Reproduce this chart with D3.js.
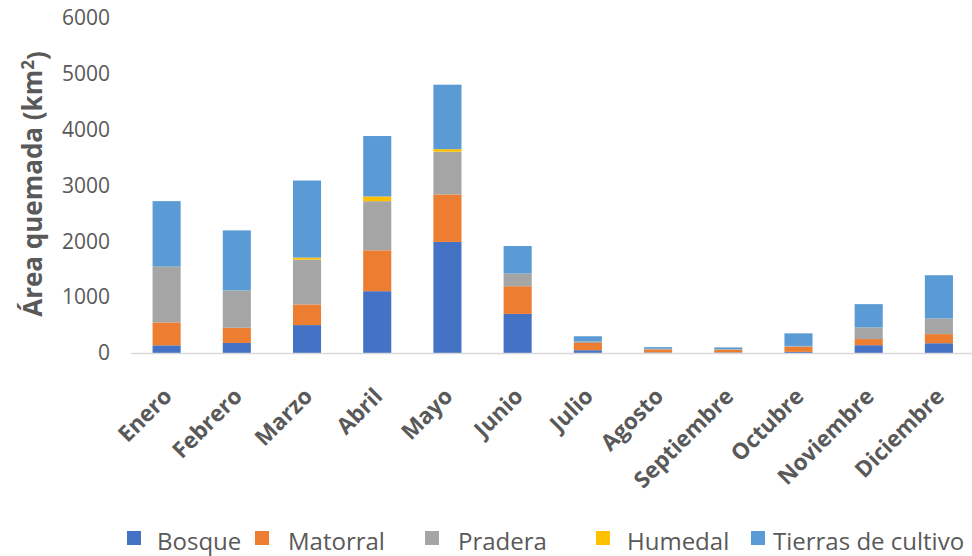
<!DOCTYPE html>
<html>
<head>
<meta charset="utf-8">
<script src="https://cdn.jsdelivr.net/npm/d3@7"></script>
<style>
  html, body { margin: 0; padding: 0; background: #fff; }
  svg { display: block; font-family: "Open Sans", sans-serif; }
</style>
</head>
<body>
<svg id="chart" width="972" height="556"></svg>
<script>
// Monthly burned area by land-cover type (km²)
const months = ["Enero", "Febrero", "Marzo", "Abril", "Mayo", "Junio",
                "Julio", "Agosto", "Septiembre", "Octubre", "Noviembre", "Diciembre"];
const seriesNames = ["Bosque", "Matorral", "Pradera", "Humedal", "Tierras de cultivo"];
const bosque   = [137, 180, 500, 1107, 1990, 700, 50, 10, 10, 20, 140, 175];
const matorral = [411, 272, 370, 732, 850, 496, 130, 55, 50, 92, 110, 164];
const pradera  = [993, 661, 803, 880, 765, 227, 30, 10, 10, 15, 209, 281];
const humedal  = [5, 5, 36, 84, 46, 0, 0, 0, 0, 0, 0, 0];
const tierras  = [1174, 1078, 1380, 1083, 1155, 494, 90, 30, 30, 225, 416, 773];
const yTicks   = [0, 1000, 2000, 3000, 4000, 5000, 6000];
const colors   = ["#4472C4", "#ED7D31", "#A5A5A5", "#FFC000", "#5B9BD5"];

const seriesValues = [bosque, matorral, pradera, humedal, tierras];
const rows = months.map((m, i) => {
  const r = { month: m };
  seriesNames.forEach((s, k) => { r[s] = seriesValues[k][i]; });
  return r;
});

const svg = d3.select("#chart");
const textColor = "#595959";

const x = d3.scaleBand()
  .domain(months)
  .range([131.5, 974])
  .paddingInner(0.6)
  .paddingOuter(0.3);

const y = d3.scaleLinear()
  .domain([0, 6000])
  .range([353, 18]);

const color = d3.scaleOrdinal().domain(seriesNames).range(colors);

const stacked = d3.stack().keys(seriesNames)(rows);

// Stacked bars
svg.append("g")
  .selectAll("g")
  .data(stacked)
  .join("g")
    .attr("fill", d => color(d.key))
  .selectAll("rect")
  .data(d => d)
  .join("rect")
    .attr("x", d => x(d.data.month))
    .attr("width", x.bandwidth())
    .attr("y", d => y(d[1]))
    .attr("height", d => Math.max(0, y(d[0]) - y(d[1])));

// Category axis line
svg.append("line")
  .attr("x1", 131).attr("x2", 972)
  .attr("y1", y(0) + 0.5).attr("y2", y(0) + 0.5)
  .attr("stroke", "#d9d9d9")
  .attr("stroke-width", 1.5);

// Value axis labels
const yAxis = d3.axisLeft(y).tickValues(yTicks).tickFormat(d3.format("d"))
  .tickSize(0).tickPadding(0);
const yG = svg.append("g")
  .attr("transform", "translate(110,0)")
  .call(yAxis);
yG.select(".domain").remove();
yG.selectAll("text")
  .attr("fill", textColor)
  .style("font-family", "'Open Sans', sans-serif")
  .style("font-size", "21px");

// Rotated month labels
svg.append("g")
  .selectAll("text")
  .data(months)
  .join("text")
    .attr("transform", d => `translate(${x(d) + x.bandwidth() / 2 - 2},389) rotate(-45)`)
    .attr("text-anchor", "end")
    .attr("dy", "0.55em")
    .attr("fill", textColor)
    .style("font-size", "22.5px")
    .style("font-weight", "bold")
    .text(d => d);

// Value axis title
const title = svg.append("text")
  .attr("transform", "translate(42,184) rotate(-90)")
  .attr("text-anchor", "middle")
  .attr("fill", textColor)
  .style("font-size", "26px")
  .style("font-weight", "bold");
title.append("tspan").text("Área quemada (km");
title.append("tspan").attr("dy", "-0.45em").style("font-size", "17px").text("2");
title.append("tspan").attr("dy", "0.45em").text(")");

// Legend
const legendSwatchX = [127, 255, 425, 596, 751];
const legendTextX   = [157, 288, 458, 627, 773];
const legend = svg.append("g");
seriesNames.forEach((s, i) => {
  legend.append("rect")
    .attr("x", legendSwatchX[i]).attr("y", 531)
    .attr("width", 14).attr("height", 14)
    .attr("fill", color(s));
  legend.append("text")
    .attr("x", legendTextX[i]).attr("y", 550)
    .attr("fill", textColor)
    .style("font-size", "24px")
    .text(s);
});
</script>
</body>
</html>
